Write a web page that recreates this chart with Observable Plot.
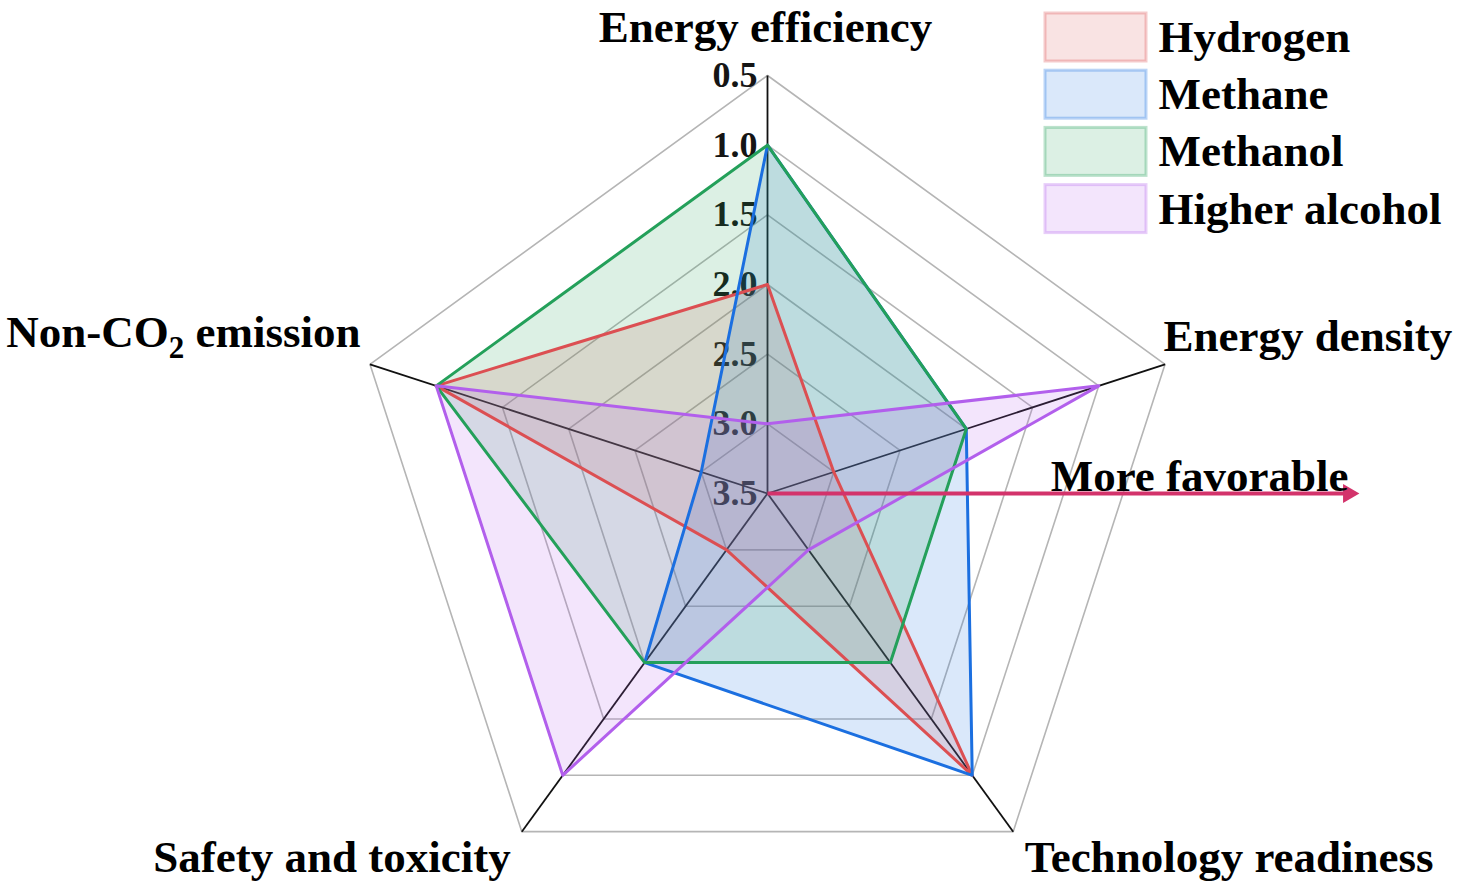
<!DOCTYPE html>
<html>
<head>
<meta charset="utf-8">
<script src="https://cdn.jsdelivr.net/npm/d3@7"></script>
<script src="https://cdn.jsdelivr.net/npm/@observablehq/plot@0.6"></script>
<style>
  html, body { margin: 0; padding: 0; background: #fff; }
  #chart { width: 1457px; height: 886px; }
</style>
</head>
<body>
<div id="chart"></div>
<script>
// ---------------- data ----------------
const axes = ["Energy efficiency", "Energy density", "Technology readiness", "Safety and toxicity", "Non-CO₂ emission"];
const seriesNames = ["Hydrogen", "Methane", "Methanol", "Higher alcohol"];
const hydrogen      = [2.0, 3.0, 1.0, 3.0, 1.0];
const methane       = [1.0, 2.0, 1.0, 2.0, 3.0];
const methanol      = [1.0, 2.0, 2.0, 2.0, 1.0];
const higherAlcohol = [3.0, 1.0, 3.0, 1.0, 1.0];
const tickValues = [0.5, 1.0, 1.5, 2.0, 2.5, 3.0, 3.5];
const tickLabels = ["0.5", "1.0", "1.5", "2.0", "2.5", "3.0", "3.5"];
const arrowLabel = "More favorable";

// ---------------- layout & style ----------------
const W = 1457, H = 886;
const CX = 767, CY = 493, RADIUS = 418;
const innerValue = 3.5, outerValue = 0.5;
const SPAN = innerValue - outerValue;          // 3 radial units
const UNIT = RADIUS / SPAN;                    // px per radial unit
const ux = px => (px - CX) / UNIT;
const uy = py => (CY - py) / UNIT;
const strokeColors = ["#dc4f52", "#1b6fe0", "#24a05a", "#b25fec"];
const arrowColor = "#d3336b";
const arrowLength = 4.17;                      // radial units along the +x direction
const font = "'Liberation Serif', 'Times New Roman', serif";
// label offsets (px) relative to outer vertex of each axis: [anchor, dx, dy]
const labelOffsets = [["middle", -2, -34], ["start", -1.5, -13], ["middle", 216, 40], ["end", -11, 40], ["end", -9.5, -17]];
const legend = {x1: 1045, x2: 1146, top: 13, step: 57.2, boxH: 48, textX: 1158};

// ---------------- helpers ----------------
function pos(i, v) {
  const r = innerValue - v;
  const a = (90 - 72 * i) * Math.PI / 180;
  return [r * Math.cos(a), r * Math.sin(a)];
}
const seriesValues = [hydrogen, methane, methanol, higherAlcohol];
const rows = seriesNames.flatMap((name, s) =>
  seriesValues[s].map((v, i) => { const [x, y] = pos(i, v); return {name, axis: axes[i], value: v, x, y}; }));
const gridLevels = tickValues.filter(v => v < innerValue);
const gridRows = gridLevels.flatMap(v => axes.map((a, i) => { const [x, y] = pos(i, v); return {level: v, x, y}; }));
const spokes = axes.map((a, i) => { const [x, y] = pos(i, outerValue); return {axis: a, i, x, y}; });
const ticks = tickValues.map((v, i) => { const [x, y] = pos(0, v); return {label: tickLabels[i], x, y}; });
const legendRows = seriesNames.map((name, i) => ({
  name,
  x1: ux(legend.x1), x2: ux(legend.x2),
  y1: uy(legend.top + i * legend.step), y2: uy(legend.top + i * legend.step + legend.boxH),
  ym: uy(legend.top + i * legend.step + legend.boxH / 2),
  xt: ux(legend.textX)
}));

const labelMarks = spokes.map((s, i) => Plot.text([s], {
  x: "x", y: "y", text: "axis",
  textAnchor: labelOffsets[i][0], dx: labelOffsets[i][1], dy: labelOffsets[i][2],
  lineAnchor: "bottom", fontSize: 45, fontWeight: "bold", fontFamily: font, fill: "#000"
}));

const chart = Plot.plot({
  width: W, height: H,
  marginLeft: 0, marginRight: 0, marginTop: 0, marginBottom: 0,
  x: {domain: [ux(0), ux(W)], axis: null},
  y: {domain: [uy(H), uy(0)], axis: null},
  color: {domain: seriesNames, range: strokeColors},
  style: {background: "#fff", fontFamily: font},
  marks: [
    Plot.line(gridRows, {x: "x", y: "y", z: "level", curve: "linear-closed", stroke: "#b5b5b5", strokeWidth: 1.6}),
    Plot.link(spokes, {x1: 0, y1: 0, x2: "x", y2: "y", stroke: "#111", strokeWidth: 1.8}),
    Plot.text(ticks, {x: "x", y: "y", text: "label", textAnchor: "end", dx: -10, lineAnchor: "middle",
      fontSize: 36, fontWeight: "bold", fontFamily: font, fill: "#151515"}),
    Plot.area(rows, {x1: "x", y1: "y", x2: 0, y2: 0, z: "name", fill: "name", fillOpacity: 0.16, curve: "linear-closed"}),
    Plot.line(rows, {x: "x", y: "y", z: "name", stroke: "name", strokeWidth: 3, curve: "linear-closed"}),
    Plot.link([{x: arrowLength}], {x1: 0, y1: 0, x2: "x", y2: 0, stroke: arrowColor, strokeWidth: 4}),
    Plot.dot([{x: arrowLength}], {x: "x", y: 0, symbol: "triangle", rotate: 90, r: 7, fill: arrowColor, stroke: "none"}),
    Plot.text([{x: arrowLength, label: arrowLabel}], {x: "x", y: 0, text: "label", textAnchor: "end", dx: 0, dy: -3,
      lineAnchor: "bottom", fontSize: 45, fontWeight: "bold", fontFamily: font, fill: "#000"}),
    ...labelMarks,
    Plot.rect(legendRows, {x1: "x1", x2: "x2", y1: "y1", y2: "y2", fill: "name", fillOpacity: 0.16,
      stroke: "name", strokeOpacity: 0.3, strokeWidth: 3}),
    Plot.text(legendRows, {x: "xt", y: "ym", text: "name", textAnchor: "start", lineAnchor: "middle",
      fontSize: 45, fontWeight: "bold", fontFamily: font, fill: "#000"})
  ]
});
document.getElementById("chart").append(chart);

// subscript for CO2 in the axis label
const svgNS = "http://www.w3.org/2000/svg";
chart.querySelectorAll("text").forEach(t => {
  if (t.textContent === axes[4]) {
    const el = t.querySelector("tspan") || t;
    const [pre, post] = axes[4].split("₂");
    el.textContent = "";
    el.append(document.createTextNode(pre));
    const sub = document.createElementNS(svgNS, "tspan");
    sub.setAttribute("dy", "11");
    sub.setAttribute("font-size", "31");
    sub.textContent = "2";
    const rest = document.createElementNS(svgNS, "tspan");
    rest.setAttribute("dy", "-11");
    rest.textContent = post;
    el.append(sub, rest);
  }
});
</script>
</body>
</html>
